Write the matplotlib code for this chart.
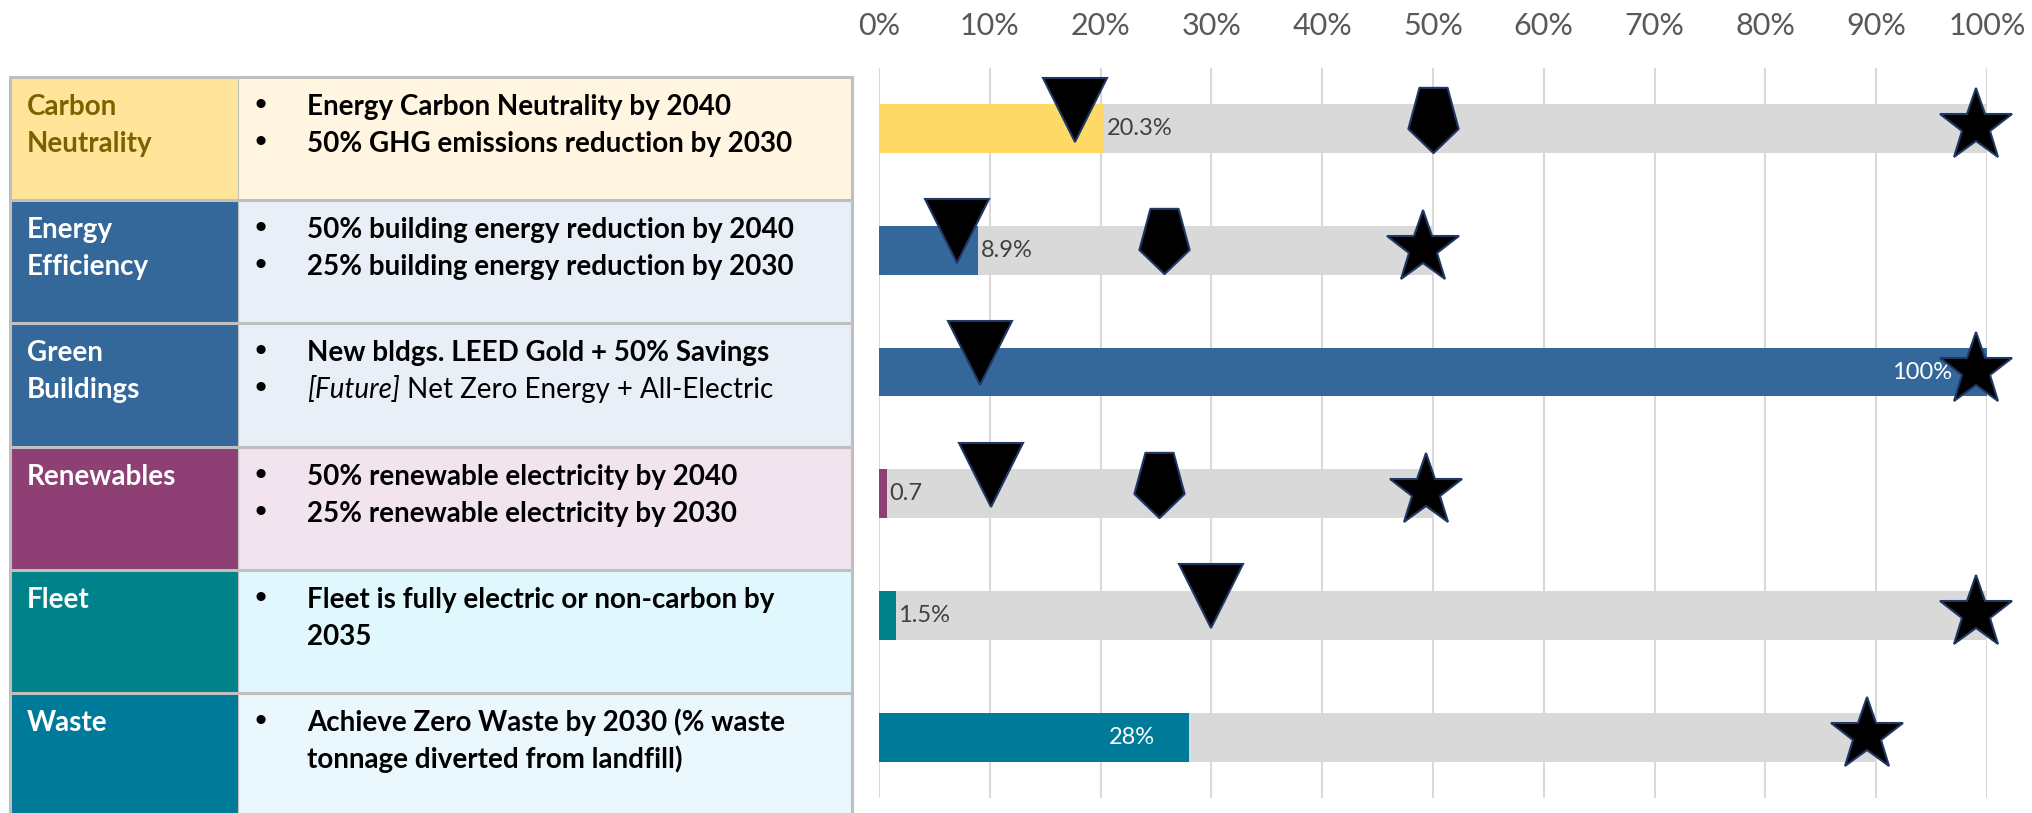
import matplotlib.pyplot as plt
from matplotlib.path import Path
from matplotlib.patches import Rectangle

plt.rcParams['font.family'] = ['Lato', 'DejaVu Sans']

# ---- data ----
categories = ['Carbon Neutrality', 'Energy Efficiency', 'Green Buildings',
              'Renewables', 'Fleet', 'Waste']
head_lines = [['Carbon', 'Neutrality'], ['Energy', 'Efficiency'], ['Green', 'Buildings'],
              ['Renewables'], ['Fleet'], ['Waste']]
# each bullet is a list of lines; a line may be a list of (text, style) segments
bullets = [
    [['Energy Carbon Neutrality by 2040'], ['50% GHG emissions reduction by 2030']],
    [['50% building energy reduction by 2040'], ['25% building energy reduction by 2030']],
    [['New bldgs. LEED Gold + 50% Savings'],
     [[('[Future]', 'italic'), (' Net Zero Energy + All-Electric', 'normal')]]],
    [['50% renewable electricity by 2040'], ['25% renewable electricity by 2030']],
    [['Fleet is fully electric or non-carbon by', '2035']],
    [['Achieve Zero Waste by 2030 (% waste', 'tonnage diverted from landfill)']],
]
actual = [20.3, 8.9, 100, 0.7, 1.5, 28]
target = [100, 50, 100, 50, 100, 90]
value_text = ['20.3%', '8.9%', '100%', '0.7', '1.5%', '28%']
label_inside = [False, False, True, False, False, True]
interim = [17.7, 7.0, 9.1, 10.1, 30.0, None]      # triangles
midway = [50.0, 25.7, None, 25.3, None, None]     # pentagons
goal = [99.05, 49.1, 99.05, 49.4, 99.0, 89.2]     # stars

# ---- styles ----
head_fill = ['#FFE599', '#34679A', '#34679A', '#8E3F73', '#00828A', '#007A99']
head_text = ['#7F6000', 'white', 'white', 'white', 'white', 'white']
desc_fill = ['#FFF5E1', '#E8EFF7', '#E8EFF7', '#F2E4EE', '#E0F8FD', '#EAF7FC']
bar_fill = ['#FFD966', '#35689A', '#35689A', '#8E3F73', '#00838A', '#007A99']

W, H = 2033, 813
fig = plt.figure(figsize=(W / 100, H / 100), dpi=100)
renderer = fig.canvas.get_renderer()

# table on a pixel-space background axes
bg = fig.add_axes([0, 0, 1, 1])
bg.set_xlim(0, W)
bg.set_ylim(H, 0)
bg.axis('off')

row_top, row_h = 77, 123.2
x0, xd, x1 = 10, 238, 852
line_gap = 37
for i in range(len(categories)):
    top = row_top + i * row_h
    bg.add_patch(Rectangle((x0, top), xd - x0, row_h, fc=head_fill[i], ec='none'))
    bg.add_patch(Rectangle((xd, top), x1 - xd, row_h, fc=desc_fill[i], ec='none'))
    for j, line in enumerate(head_lines[i]):
        bg.text(27, top + 38 + j * line_gap, line, fontsize=20, weight='bold',
                color=head_text[i], va='baseline')
    k = 0
    for bullet in bullets[i]:
        bg.text(255, top + 38 + k * line_gap - 5, '\u2022', fontsize=15, weight='bold',
                color='black', va='baseline')
        for line in bullet:
            yb = top + 38 + k * line_gap
            if isinstance(line, str):
                bg.text(307, yb, line, fontsize=20, weight='bold', color='black',
                        va='baseline')
            else:
                xs = 307
                for seg, style in line:
                    t = bg.text(xs, yb, seg, fontsize=20, style=style, color='black',
                                va='baseline')
                    xs += t.get_window_extent(renderer).width
            k += 1

border = '#BFBFBF'
for i in range(len(categories) + 1):
    yy = row_top + i * row_h
    bg.plot([x0, x1], [yy, yy], color=border, lw=2.2, solid_capstyle='butt')
bg.plot([x0, x0], [row_top, H], color=border, lw=2.2)
bg.plot([x1, x1], [row_top, H], color=border, lw=2.2)
bg.plot([xd, xd], [row_top, H], color=border, lw=0.8)

# ---- chart ----
ax = fig.add_axes([879 / W, 1 - 798 / H, 1108 / W, 730 / H])
ax.patch.set_alpha(0)
rows = list(range(len(categories)))
ax.barh(rows, target, height=0.4, color='#D9D9D9', zorder=2)
ax.barh(rows, actual, height=0.4, color=bar_fill, zorder=3)

ax.set_xlim(0, 100)
ax.set_ylim(len(categories) - 0.5, -0.5)
ax.set_xticks(range(0, 101, 10))
ax.xaxis.set_major_formatter(lambda v, p: f'{v:.0f}%')
ax.xaxis.tick_top()
ax.tick_params(axis='x', length=0, pad=20, labelsize=22, labelcolor='#595959')
ax.set_yticks([])
ax.grid(axis='x', color='#D9D9D9', lw=1.5)
ax.set_axisbelow(True)
for s in ax.spines.values():
    s.set_visible(False)

for i, txt in enumerate(value_text):
    if label_inside[i]:
        ax.annotate(txt, (actual[i], i), xytext=(-25, 0), textcoords='offset points',
                    ha='right', va='center', color='white', fontsize=17, zorder=4)
    else:
        ax.annotate(txt, (actual[i], i), xytext=(2, 0), textcoords='offset points',
                    ha='left', va='center', color='#404040', fontsize=17, zorder=4)

pent = Path([(-0.43, 1), (0.43, 1), (0.77, -0.26), (0, -1), (-0.77, -0.26), (-0.43, 1)],
            closed=True)
edge = '#203864'


def put_markers(vals, lift, marker, ms):
    pts = [(v, r + lift) for r, v in zip(rows, vals) if v is not None]
    ax.plot([p[0] for p in pts], [p[1] for p in pts], ls='none', marker=marker, ms=ms,
            mfc='black', mec=edge, mew=1.5, clip_on=False, zorder=6)


put_markers(interim, -0.157, 'v', 46)
put_markers(midway, -0.074, pent, 47)
put_markers(goal, -0.02, '*', 55)

fig.savefig('out.png', dpi=100)
